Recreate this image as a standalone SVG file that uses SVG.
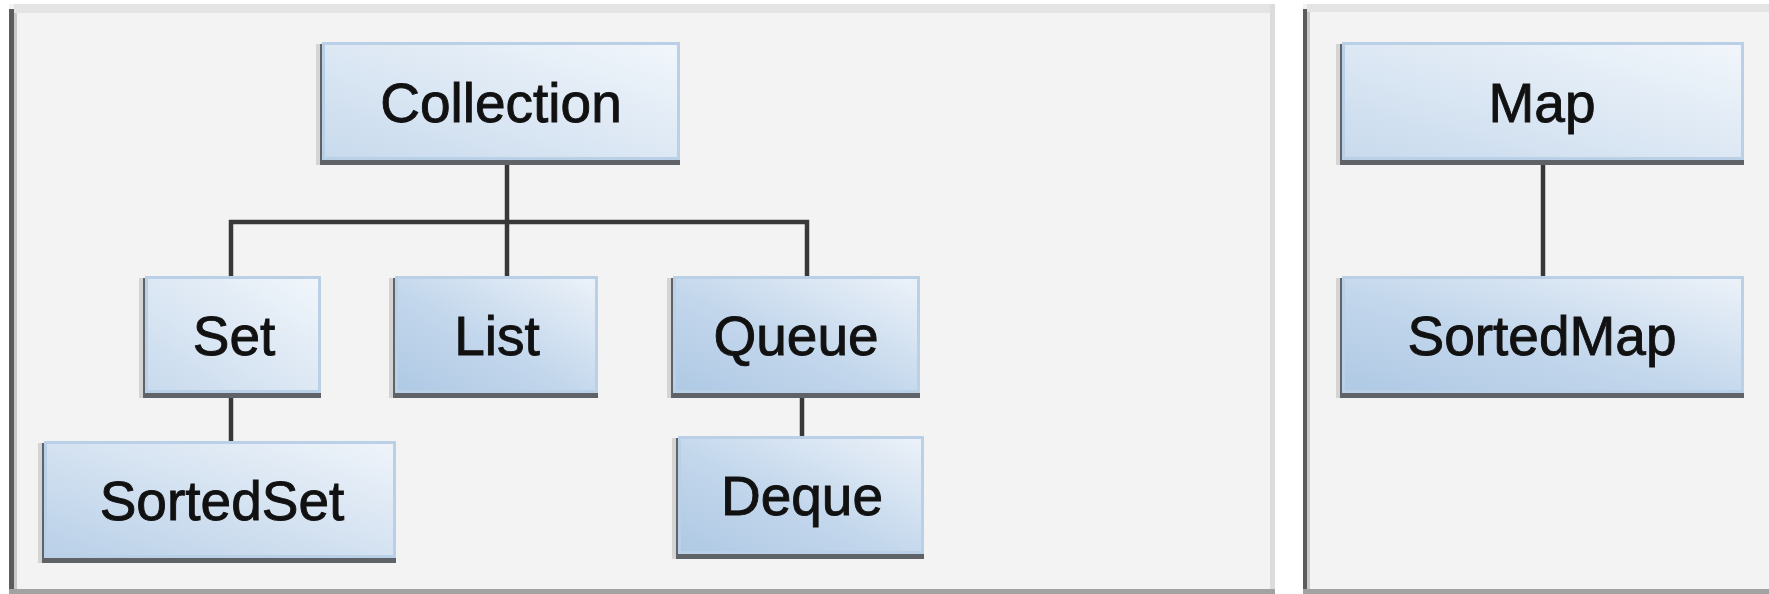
<svg xmlns="http://www.w3.org/2000/svg" width="1769" height="594" viewBox="0 0 1769 594">
  <defs>
    <!-- box fills: darker steel blue at lower left, fading to near-white at upper right -->
    <linearGradient id="gLite" x1="0" y1="1" x2="1" y2="0">
      <stop offset="0" stop-color="#c8daed"/>
      <stop offset="1" stop-color="#f1f6fb"/>
    </linearGradient>
    <linearGradient id="gMid" x1="0" y1="1" x2="1" y2="0">
      <stop offset="0" stop-color="#b9d0e8"/>
      <stop offset="1" stop-color="#eff4fa"/>
    </linearGradient>
    <linearGradient id="gDeep" x1="0" y1="1" x2="1" y2="0">
      <stop offset="0" stop-color="#afc9e4"/>
      <stop offset="0.45" stop-color="#c3d7ec"/>
      <stop offset="1" stop-color="#ecf2f9"/>
    </linearGradient>
    <style>
      .panel { fill: #f3f3f3; }
      .panelTop { fill: #e4e4e4; }
      .edgeDark { fill: #5c5c5c; }
      .edgeSoft { fill: #c9c9c9; }
      .edgeRight { fill: #dcdcdc; }
      .edgeBottom { fill: #a2a2a2; }
      .shadow { fill: #5f6368; }
      .rim { fill: #d4d4d4; }
      .face { stroke: #b9d0e7; stroke-width: 3; }
      .lite { fill: url(#gLite); }
      .mid { fill: url(#gMid); }
      .deep { fill: url(#gDeep); }
      .label { font-family: "Liberation Sans", Arial, sans-serif; font-size: 55px; fill: #111; stroke: #111; stroke-width: 0.9; text-anchor: middle; }
      .link { stroke: #383838; stroke-width: 4.5; fill: none; stroke-linecap: butt; }
    </style>
  </defs>

  <rect x="0" y="0" width="1769" height="594" fill="#ffffff"/>

  <!-- left frame: Collection hierarchy -->
  <g id="panel-collection">
    <rect class="panel" x="9" y="4" width="1266" height="590"/>
    <rect class="panelTop" x="14" y="4" width="1261" height="9"/>
    <rect class="edgeDark" x="9" y="9" width="5" height="585"/>
    <rect class="edgeSoft" x="14" y="13" width="3" height="576"/>
    <rect class="edgeRight" x="1270" y="4" width="5" height="590"/>
    <rect class="edgeBottom" x="9" y="589" width="1266" height="5"/>
  </g>

  <!-- right frame: Map hierarchy -->
  <g id="panel-map">
    <rect class="panel" x="1303" y="4" width="466" height="590" fill="#f6f6f6"/>
    <rect class="panelTop" x="1307" y="4" width="462" height="8"/>
    <rect class="edgeDark" x="1303" y="9" width="4" height="585"/>
    <rect class="edgeSoft" x="1307" y="12" width="3" height="577"/>
    <rect class="edgeBottom" x="1303" y="589" width="466" height="5"/>
  </g>

  <!-- connectors -->
  <g id="connectors">
    <path class="link" d="M507 165 V276"/>
    <path class="link" d="M229 222 H809"/>
    <path class="link" d="M231 220 V276"/>
    <path class="link" d="M807 220 V276"/>
    <path class="link" d="M231 398 V442"/>
    <path class="link" d="M802 398 V436"/>
    <path class="link" d="M1543 165 V276"/>
  </g>

  <!-- nodes: dark drop edge on left and bottom, gradient face with light blue rim -->
  <g id="node-collection">
    <rect class="rim" x="316" y="44" width="4" height="121"/>
    <rect class="shadow" x="320" y="44" width="360" height="121"/>
    <rect class="face lite" x="323.5" y="43.5" width="355" height="115"/>
    <text class="label" x="501" y="122">Collection</text>
  </g>

  <g id="node-set">
    <rect class="rim" x="139" y="278" width="4" height="120"/>
    <rect class="shadow" x="143" y="278" width="178" height="120"/>
    <rect class="face lite" x="146.5" y="277.5" width="173" height="114"/>
    <text class="label" x="234" y="355">Set</text>
  </g>

  <g id="node-list">
    <rect class="rim" x="389" y="278" width="4" height="120"/>
    <rect class="shadow" x="393" y="278" width="205" height="120"/>
    <rect class="face deep" x="396.5" y="277.5" width="200" height="114"/>
    <text class="label" x="497" y="355">List</text>
  </g>

  <g id="node-queue">
    <rect class="rim" x="667" y="278" width="4" height="120"/>
    <rect class="shadow" x="671" y="278" width="249" height="120"/>
    <rect class="face deep" x="674.5" y="277.5" width="244" height="114"/>
    <text class="label" x="796" y="355">Queue</text>
  </g>

  <g id="node-sortedset">
    <rect class="rim" x="38" y="443" width="4" height="120"/>
    <rect class="shadow" x="42" y="443" width="354" height="120"/>
    <rect class="face mid" x="45.5" y="442.5" width="349" height="114"/>
    <text class="label" x="222" y="520">SortedSet</text>
  </g>

  <g id="node-deque">
    <rect class="rim" x="672" y="438" width="4" height="121"/>
    <rect class="shadow" x="676" y="438" width="248" height="121"/>
    <rect class="face deep" x="679.5" y="437.5" width="243" height="115"/>
    <text class="label" x="802" y="515">Deque</text>
  </g>

  <g id="node-map">
    <rect class="rim" x="1336" y="44" width="4" height="121"/>
    <rect class="shadow" x="1340" y="44" width="404" height="121"/>
    <rect class="face lite" x="1343.5" y="43.5" width="399" height="115"/>
    <text class="label" x="1542" y="122">Map</text>
  </g>

  <g id="node-sortedmap">
    <rect class="rim" x="1336" y="278" width="4" height="120"/>
    <rect class="shadow" x="1340" y="278" width="404" height="120"/>
    <rect class="face deep" x="1343.5" y="277.5" width="399" height="114"/>
    <text class="label" x="1542" y="355">SortedMap</text>
  </g>
</svg>
